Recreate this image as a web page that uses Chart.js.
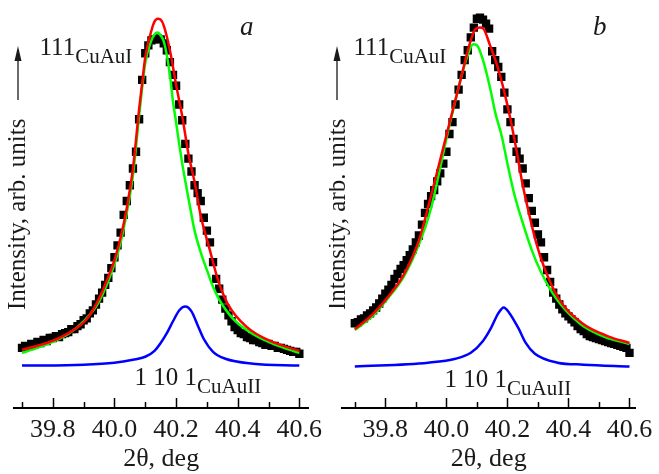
<!DOCTYPE html>
<html>
<head>
<meta charset="utf-8">
<script src="https://cdn.jsdelivr.net/npm/chart.js@4.4.1/dist/chart.umd.min.js"></script>
<style>
  body { margin: 0; background: #fff; font-family: "Liberation Serif", serif; }
  #wrap { position: relative; width: 659px; height: 474px; }
  canvas { position: absolute; top: 0; }
  #chartA { left: 0; }
  #chartB { left: 329px; }
</style>
</head>
<body>
<div id="wrap">
  <canvas id="chartA" width="329" height="474"></canvas>
  <canvas id="chartB" width="330" height="474"></canvas>
</div>
<script>
  const tickValues = [39.7, 39.8, 39.9, 40.0, 40.1, 40.2, 40.3, 40.4, 40.5, 40.6];
  const tickLabels = ["", "39.8", "", "40.0", "", "40.2", "", "40.4", "", "40.6"];

  // panel a: measured points [2theta, intensity]
  const measuredA = [
    [39.70, 61], [39.71, 63], [39.72, 62], [39.73, 65], [39.74, 64], [39.75, 67], [39.76, 66], [39.77, 69],
    [39.78, 68], [39.79, 71], [39.80, 71], [39.81, 73], [39.82, 72], [39.83, 75], [39.84, 76], [39.85, 77],
    [39.86, 80], [39.87, 80], [39.88, 83], [39.89, 85], [39.90, 89], [39.91, 91], [39.92, 96], [39.93, 99],
    [39.94, 105], [39.95, 111], [39.96, 117], [39.97, 125], [39.98, 132], [39.99, 142], [40.00, 153],
    [40.01, 165], [40.02, 178], [40.03, 196], [40.04, 210], [40.05, 226], [40.06, 243], [40.07, 260],
    [40.08, 293], [40.09, 333], [40.10, 360], [40.11, 368], [40.12, 373], [40.13, 374], [40.14, 375],
    [40.15, 374], [40.16, 370], [40.17, 363], [40.18, 351], [40.19, 338], [40.20, 327], [40.21, 308],
    [40.22, 292], [40.23, 268], [40.24, 253], [40.25, 240], [40.26, 226], [40.27, 218], [40.28, 210],
    [40.29, 193], [40.30, 180], [40.31, 168], [40.32, 148], [40.33, 131], [40.34, 121], [40.35, 110],
    [40.36, 101], [40.37, 94], [40.38, 88], [40.39, 82], [40.40, 79], [40.41, 76], [40.42, 75], [40.43, 72],
    [40.44, 71], [40.45, 69], [40.46, 69], [40.47, 67], [40.48, 66], [40.49, 64], [40.50, 65], [40.51, 63],
    [40.52, 63], [40.53, 61], [40.54, 61], [40.55, 60], [40.56, 59], [40.57, 58], [40.58, 57], [40.59, 57],
    [40.60, 55]
  ];
  const fitA = [
    [39.70, 59], [39.77, 65], [39.82, 71], [39.876, 81], [39.91, 90], [39.95, 111], [39.98, 133], [40.00, 150],
    [40.02, 173], [40.04, 203], [40.06, 243], [40.08, 303], [40.09, 330], [40.10, 356], [40.12, 383],
    [40.13, 392], [40.14, 395], [40.15, 394], [40.16, 388], [40.18, 363], [40.20, 328], [40.22, 296],
    [40.24, 258], [40.261, 228], [40.28, 195], [40.309, 161], [40.335, 131], [40.367, 106], [40.43, 82],
    [40.505, 68], [40.60, 58]
  ];
  const cuAuIA = [
    [39.70, 56], [39.75, 61], [39.80, 67], [39.85, 75], [39.90, 88], [39.95, 108], [40.00, 146], [40.02, 168],
    [40.04, 198], [40.06, 236], [40.08, 296], [40.10, 350], [40.12, 373], [40.13, 379], [40.14, 381],
    [40.15, 378], [40.16, 372], [40.17, 358], [40.18, 338], [40.19, 311], [40.20, 290], [40.21, 268],
    [40.22, 248], [40.23, 230], [40.24, 213], [40.25, 196], [40.26, 180], [40.28, 158], [40.30, 140],
    [40.32, 123], [40.34, 110], [40.37, 96], [40.40, 86], [40.45, 75], [40.50, 67], [40.55, 61], [40.60, 56]
  ];
  const cuAuIIA = [
    [39.70, 43], [39.90, 44], [40.00, 46], [40.06, 49], [40.10, 52], [40.13, 58], [40.15, 66], [40.17, 76],
    [40.19, 88], [40.21, 99], [40.23, 103], [40.25, 98], [40.27, 84], [40.29, 70], [40.32, 57], [40.36, 50],
    [40.45, 45], [40.60, 43]
  ];

  // panel b
  const measuredB = [
    [39.70, 86], [39.71, 87], [39.72, 90], [39.73, 91], [39.74, 94], [39.75, 96], [39.76, 99], [39.77, 102],
    [39.78, 106], [39.79, 111], [39.80, 116], [39.81, 120], [39.82, 125], [39.83, 131], [39.84, 136],
    [39.85, 141], [39.86, 145], [39.87, 150], [39.88, 155], [39.89, 161], [39.90, 168], [39.91, 175],
    [39.92, 186], [39.93, 198], [39.94, 207], [39.95, 215], [39.96, 221], [39.97, 230], [39.98, 238],
    [39.99, 248], [40.00, 260], [40.01, 278], [40.02, 290], [40.03, 308], [40.04, 323], [40.05, 338],
    [40.06, 353], [40.07, 363], [40.08, 376], [40.09, 386], [40.10, 395], [40.11, 396], [40.12, 394],
    [40.13, 390], [40.14, 385], [40.15, 362], [40.16, 353], [40.17, 346], [40.18, 336], [40.19, 320],
    [40.20, 303], [40.21, 290], [40.22, 273], [40.23, 260], [40.24, 253], [40.25, 243], [40.26, 228],
    [40.27, 213], [40.28, 200], [40.29, 188], [40.30, 176], [40.31, 168], [40.32, 153], [40.33, 140],
    [40.34, 128], [40.35, 117], [40.36, 111], [40.37, 105], [40.38, 100], [40.39, 96], [40.40, 93],
    [40.41, 90], [40.42, 87], [40.43, 83], [40.44, 80], [40.45, 78], [40.46, 75], [40.47, 73], [40.48, 72],
    [40.49, 71], [40.50, 70], [40.51, 69], [40.52, 68], [40.53, 67], [40.54, 66], [40.55, 65], [40.56, 64],
    [40.57, 63], [40.58, 62], [40.59, 61], [40.60, 56]
  ];
  const fitB = [
    [39.70, 80], [39.758, 95], [39.812, 114], [39.86, 135], [39.91, 170], [39.947, 212], [39.98, 252],
    [40.015, 295], [40.04, 325], [40.06, 350], [40.075, 368], [40.094, 384], [40.11, 386], [40.121, 385],
    [40.143, 368], [40.166, 348], [40.188, 323], [40.21, 293], [40.23, 261], [40.249, 228], [40.268, 201],
    [40.294, 168], [40.32, 143], [40.368, 111], [40.445, 86], [40.528, 73], [40.60, 66]
  ];
  const cuAuIB = [
    [39.70, 79], [39.76, 94], [39.81, 112], [39.86, 133], [39.91, 166], [39.95, 203], [39.98, 244],
    [40.005, 280], [40.025, 306], [40.047, 334], [40.07, 358], [40.088, 369], [40.10, 368], [40.12, 353],
    [40.143, 325], [40.16, 300], [40.182, 275], [40.20, 248], [40.22, 220], [40.25, 188], [40.28, 160],
    [40.31, 138], [40.36, 111], [40.44, 85], [40.52, 72], [40.60, 65]
  ];
  const cuAuIIB = [
    [39.70, 42], [39.94, 46], [40.03, 50], [40.08, 56], [40.12, 68], [40.146, 81], [40.17, 96], [40.188, 102],
    [40.205, 97], [40.236, 81], [40.26, 66], [40.29, 55], [40.364, 46], [40.45, 44], [40.60, 42]
  ];

  const serif = '"Liberation Serif", "Times New Roman", "DejaVu Serif", serif';
  const textColor = "#1a1a1a";

  function toPoints(pairs) {
    return pairs.map(p => ({ x: p[0], y: p[1] }));
  }

  function curve(pairs, color, order) {
    return {
      data: toPoints(pairs), showLine: true, borderColor: color, borderWidth: 2.5,
      pointRadius: 0, cubicInterpolationMode: "monotone", order: order
    };
  }

  // small inward ticks on the 2theta axis
  const tickMarks = {
    id: "tickMarks",
    afterDraw(chart) {
      const ctx = chart.ctx;
      const xs = chart.scales.x;
      const bottom = chart.chartArea.bottom;
      ctx.save();
      ctx.strokeStyle = "#000";
      ctx.lineWidth = 1.5;
      tickValues.forEach((v, i) => {
        const px = Math.round(xs.getPixelForValue(v)) + 0.5;
        const len = tickLabels[i] ? 10 : 6;
        ctx.beginPath();
        ctx.moveTo(px, bottom);
        ctx.lineTo(px, bottom - len);
        ctx.stroke();
      });
      ctx.restore();
    }
  };

  function drawSub(ctx, main, sub, x, y, subY) {
    ctx.font = "25px " + serif;
    ctx.fillText(main, x, y);
    const w = ctx.measureText(main).width;
    ctx.font = "21px " + serif;
    ctx.fillText(sub, x + w, subY);
  }

  function panelText(p) {
    return {
      id: "panelText",
      afterDraw(chart) {
        const ctx = chart.ctx;
        ctx.save();
        ctx.fillStyle = textColor;
        ctx.strokeStyle = textColor;
        ctx.textAlign = "left";
        ctx.textBaseline = "alphabetic";
        drawSub(ctx, "111", "CuAuI", p.mainX, 55, 63);
        drawSub(ctx, "1 10 1", "CuAuII", p.sideX, p.sideY, p.sideY + 8);
        ctx.font = "italic 27px " + serif;
        ctx.fillText(p.letter, p.letterX, 35);

        // vertical title and arrow
        ctx.save();
        ctx.translate(p.titleX, 310);
        ctx.rotate(-Math.PI / 2);
        ctx.font = "25px " + serif;
        ctx.fillText("Intensity, arb. units", 0, 0);
        ctx.restore();

        ctx.lineWidth = 1.3;
        ctx.beginPath();
        ctx.moveTo(p.arrowX, 100);
        ctx.lineTo(p.arrowX, 58);
        ctx.stroke();
        ctx.beginPath();
        ctx.moveTo(p.arrowX, 46);
        ctx.lineTo(p.arrowX - 3.5, 61);
        ctx.lineTo(p.arrowX + 3.5, 61);
        ctx.closePath();
        ctx.fill();
        ctx.restore();
      }
    };
  }

  function makeChart(id, sets, range, pad, text) {
    new Chart(document.getElementById(id), {
      type: "scatter",
      data: {
        datasets: [
          curve(sets.fit, "#ff0000", 0),
          curve(sets.one, "#00ff00", 1),
          curve(sets.two, "#0000ff", 2),
          {
            data: toPoints(sets.measured), showLine: false, pointStyle: "rect",
            pointRadius: 5.9, pointBackgroundColor: "#000", pointBorderWidth: 0, order: 3
          }
        ]
      },
      options: {
        responsive: false,
        animation: false,
        events: [],
        layout: { padding: { left: pad[0], right: pad[1], top: 0, bottom: 0 } },
        plugins: { legend: { display: false }, tooltip: { enabled: false } },
        scales: {
          x: {
            type: "linear", min: range[0], max: range[1],
            afterBuildTicks: axis => { axis.ticks = tickValues.map(v => ({ value: v })); },
            grid: { display: false, drawTicks: false },
            border: { display: true, color: "#000", width: 2 },
            ticks: {
              autoSkip: false, maxRotation: 0, padding: 6.4, color: textColor,
              font: { family: serif, size: 26, lineHeight: 1.2 },
              callback: (v, i) => tickLabels[i]
            },
            title: {
              display: true, text: "2θ, deg", color: textColor,
              font: { family: serif, size: 26, lineHeight: 1.2 },
              padding: { top: -8.2, bottom: -1 }
            }
          },
          y: { display: false, min: 0, max: 408 }
        }
      },
      plugins: [tickMarks, panelText(text)]
    });
  }

  function drawAll() {
    makeChart("chartA",
      { measured: measuredA, fit: fitA, one: cuAuIA, two: cuAuIIA },
      [39.674, 40.629], [14, 17],
      { mainX: 39.5, sideX: 134.5, sideY: 385, letter: "a", letterX: 240, titleX: 25, arrowX: 18 });

    makeChart("chartB",
      { measured: measuredB, fit: fitB, one: cuAuIB, two: cuAuIIB },
      [39.658, 40.619], [13, 18],
      { mainX: 24.5, sideX: 115.5, sideY: 387, letter: "b", letterX: 264, titleX: 16, arrowX: 8 });
  }

  Promise.all([
    document.fonts.load('25px "Liberation Serif"'),
    document.fonts.load('italic 26px "Liberation Serif"')
  ]).then(drawAll, drawAll);
</script>
</body>
</html>
